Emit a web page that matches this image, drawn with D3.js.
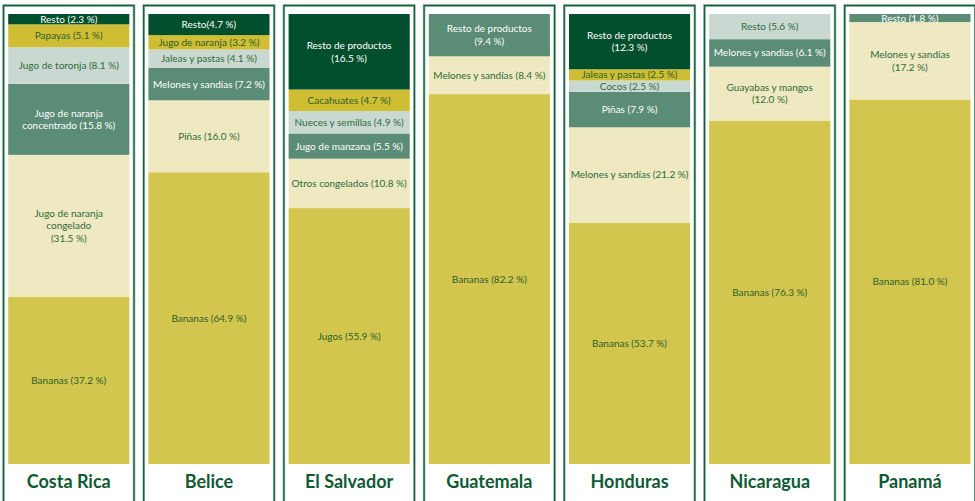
<!DOCTYPE html>
<html lang="es">
<head>
<meta charset="utf-8">
<script src="https://cdn.jsdelivr.net/npm/d3@7"></script>
<style>
  html, body { margin: 0; padding: 0; background: #ffffff; }
  svg { display: block; }
</style>
</head>
<body>
<svg id="chart" width="975" height="501"></svg>
<script>
// Export composition by country, segments listed from the bottom of each column up.
const countries = ["Costa Rica", "Belice", "El Salvador", "Guatemala", "Honduras", "Nicaragua", "Panamá"];

const costaRicaValues = [37.2, 31.5, 15.8, 8.1, 5.1, 2.3];
const costaRicaLabels = ["Bananas ({v})", "Jugo de naranja|congelado|({v})", "Jugo de naranja|concentrado ({v})", "Jugo de toronja ({v})", "Papayas ({v})", "Resto ({v})"];

const beliceValues = [64.9, 16.0, 7.2, 4.1, 3.2, 4.7];
const beliceLabels = ["Bananas ({v})", "Piñas ({v})", "Melones y sandías ({v})", "Jaleas y pastas ({v})", "Jugo de naranja ({v})", "Resto({v})"];

const elSalvadorValues = [55.9, 10.8, 5.5, 4.9, 4.7, 16.5];
const elSalvadorLabels = ["Jugos ({v})", "Otros congelados ({v})", "Jugo de manzana ({v})", "Nueces y semillas ({v})", "Cacahuates ({v})", "Resto de productos|({v})"];

const guatemalaValues = [82.2, 8.4, 9.4];
const guatemalaLabels = ["Bananas ({v})", "Melones y sandías ({v})", "Resto de productos|({v})"];

const hondurasValues = [53.7, 21.2, 7.9, 2.5, 2.5, 12.3];
const hondurasLabels = ["Bananas ({v})", "Melones y sandías ({v})", "Piñas ({v})", "Cocos ({v})", "Jaleas y pastas ({v})", "Resto de productos|({v})"];

const nicaraguaValues = [76.3, 12.0, 6.1, 5.6];
const nicaraguaLabels = ["Bananas ({v})", "Guayabas y mangos|({v})", "Melones y sandías ({v})", "Resto ({v})"];

const panamaValues = [81.0, 17.2, 1.8];
const panamaLabels = ["Bananas ({v})", "Melones y sandías|({v})", "Resto ({v})"];

const valuesByCountry = [costaRicaValues, beliceValues, elSalvadorValues, guatemalaValues, hondurasValues, nicaraguaValues, panamaValues];
const labelsByCountry = [costaRicaLabels, beliceLabels, elSalvadorLabels, guatemalaLabels, hondurasLabels, nicaraguaLabels, panamaLabels];

// ---- drawing ----
const W = 975, H = 501;
const frameTop = 5.5, barTop = 14, barBottom = 464, inset = 4.7;

const svg = d3.select("#chart");

const x = d3.scaleBand()
  .domain(countries)
  .range([3.5, 975.2])
  .paddingInner(0.069)
  .paddingOuter(0);

// Fill by stacking position: base, second, third ... top.
const fill = d3.scaleOrdinal()
  .domain(d3.range(6))
  .range(["#d3c64f", "#efe9c1", "#5b8c76", "#c9d9d1", "#cfbe33", "#004f2c"]);
const textFill = d3.scaleOrdinal()
  .domain(d3.range(6))
  .range(["#2c5f2c", "#2e6a3c", "#ffffff", "#2e6a3c", "#2c5f2c", "#ffffff"]);

const fmt = d3.format(".1f");

const panels = svg.selectAll("g.panel")
  .data(countries.map((c, i) => ({ country: c, values: valuesByCountry[i], labels: labelsByCountry[i] })))
  .join("g")
  .attr("class", "panel")
  .attr("transform", d => `translate(${x(d.country)},0)`);

// Open frame: left, top and right edges run down past the bottom of the view.
const framePath = () => {
  const w = x.bandwidth();
  return `M0,${H + 2}V${frameTop}H${w}V${H + 2}`;
};
panels.append("path")
  .attr("d", framePath)
  .attr("fill", "none")
  .attr("stroke", "#9fbcae")
  .attr("stroke-width", 2.6);
panels.append("path")
  .attr("d", framePath)
  .attr("fill", "none")
  .attr("stroke", "#12603a")
  .attr("stroke-width", 1.3);

panels.each(function (d) {
  const g = d3.select(this);
  const total = d3.sum(d.values);
  const y = d3.scaleLinear().domain([0, total]).range([barBottom, barTop]);
  const ends = Array.from(d3.cumsum(d.values));
  const segs = d.values.map((v, i) => ({
    i, v,
    y0: i === 0 ? 0 : ends[i - 1],
    y1: ends[i],
    label: d.labels[i].replace("{v}", fmt(v) + " %")
  }));

  const bw = x.bandwidth() - 2 * inset;

  g.selectAll("rect.seg")
    .data(segs)
    .join("rect")
    .attr("class", "seg")
    .attr("x", inset)
    .attr("width", bw)
    .attr("y", s => y(s.y1))
    .attr("height", s => y(s.y0) - y(s.y1))
    .attr("fill", s => fill(s.i));

  const lh = 12.6;
  g.selectAll("text.lbl")
    .data(segs)
    .join("text")
    .attr("class", "lbl")
    .attr("text-anchor", "middle")
    .attr("font-family", "Lato, 'Open Sans', sans-serif")
    .attr("font-size", 10)
    .attr("fill", s => textFill(s.i))
    .each(function (s) {
      const lines = s.label.split("|");
      const cy = (y(s.y0) + y(s.y1)) / 2;
      const first = cy - (lines.length - 1) * lh / 2 + 3.5;
      d3.select(this).selectAll("tspan")
        .data(lines)
        .join("tspan")
        .attr("x", inset + bw / 2)
        .attr("y", (t, k) => first + k * lh)
        .text(t => t);
    });

  g.append("text")
    .attr("class", "country")
    .attr("x", x.bandwidth() / 2)
    .attr("y", 488)
    .attr("text-anchor", "middle")
    .attr("font-family", "Lato, 'Open Sans', sans-serif")
    .attr("font-weight", 700)
    .attr("font-size", 18)
    .attr("fill", "#0f5a35")
    .text(d.country);
});
</script>
</body>
</html>
